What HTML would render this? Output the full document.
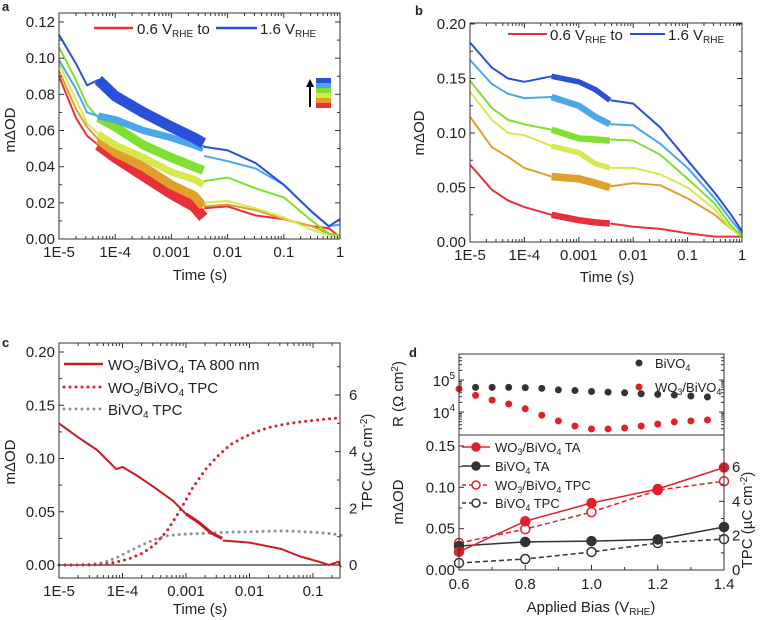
<!DOCTYPE html>
<html><head><meta charset="utf-8">
<style>
body{margin:0;background:#fff;}
svg{display:block;font-family:"Liberation Sans",sans-serif;}
text{fill:#222;}
</style></head>
<body>
<svg id="fig" width="760" height="620" viewBox="0 0 760 620" xmlns="http://www.w3.org/2000/svg">
<text x="2" y="11" font-size="13" font-weight="bold">a</text>
<text x="415" y="15" font-size="13" font-weight="bold">b</text>
<text x="2" y="347" font-size="13" font-weight="bold">c</text>
<text x="409" y="357" font-size="13" font-weight="bold">d</text>
<g id="layer"></g>
</svg>
<script>
// ---------- Panel a data ----------
const aSeriesNames = ['0.6','0.8','1.0','1.2','1.4','1.6'];
const aColors = ['#e8303a','#e0a030','#d8e850','#80e030','#4aa8ea','#2b4fd8'];
const aLogT1 = [-5,-4.7,-4.5,-4.3,-4,-3.5,-3,-2.6,-2.43];
const aLogT2 = [-2.42,-2,-1.5,-1,-0.5,-0.2,0];
const aRed1    = [0.090,0.067,0.057,0.052,0.045,0.035,0.025,0.018,0.012];
const aRed2    = [0.017,0.018,0.013,0.011,0.007,0.006,0.001];
const aOrange1 = [0.093,0.072,0.062,0.055,0.048,0.040,0.030,0.024,0.018];
const aOrange2 = [0.018,0.019,0.016,0.011,0.007,0.003,0.002];
const aYellow1 = [0.097,0.077,0.064,0.058,0.052,0.045,0.037,0.033,0.030];
const aYellow2 = [0.020,0.021,0.017,0.012,0.005,0.002,0.001];
const aGreen1  = [0.106,0.088,0.074,0.067,0.062,0.052,0.045,0.040,0.038];
const aGreen2  = [0.032,0.034,0.028,0.023,0.010,0.003,0.002];
const aLBlue1  = [0.099,0.083,0.070,0.068,0.066,0.060,0.056,0.052,0.050];
const aLBlue2  = [0.046,0.043,0.039,0.030,0.015,0.007,0.008];
const aBlue1   = [0.113,0.097,0.085,0.088,0.079,0.070,0.062,0.056,0.053];
const aBlue2   = [0.051,0.049,0.042,0.030,0.015,0.007,0.011];
const aNoise   = [0.006,0.005,0.004,0.005,0.004,0.006];
const aYTicks  = ['0.00','0.02','0.04','0.06','0.08','0.10','0.12'];
const xTickLabels = ['1E-5','1E-4','0.001','0.01','0.1','1'];

// ---------- Panel b data ----------
const bLogT1 = [-5,-4.6,-4.3,-4,-3.5,-3,-2.7,-2.43];
const bLogT2 = [-2.42,-2,-1.5,-1,-0.5,-0.2,0];
const bRed1    = [0.071,0.048,0.038,0.032,0.025,0.020,0.018,0.017];
const bRed2    = [0.017,0.014,0.012,0.008,0.005,0.005,0.005];
const bOrange1 = [0.115,0.087,0.078,0.068,0.060,0.058,0.054,0.050];
const bOrange2 = [0.051,0.054,0.052,0.040,0.025,0.012,0.008];
const bYellow1 = [0.138,0.112,0.100,0.098,0.088,0.082,0.072,0.068];
const bYellow2 = [0.068,0.068,0.062,0.050,0.030,0.012,0.005];
const bGreen1  = [0.148,0.123,0.112,0.108,0.103,0.095,0.094,0.093];
const bGreen2  = [0.094,0.093,0.080,0.058,0.035,0.015,0.005];
const bLBlue1  = [0.167,0.145,0.136,0.132,0.133,0.125,0.115,0.108];
const bLBlue2  = [0.108,0.107,0.090,0.068,0.040,0.020,0.008];
const bBlue1   = [0.183,0.160,0.150,0.147,0.152,0.147,0.140,0.130];
const bBlue2   = [0.130,0.127,0.105,0.075,0.045,0.025,0.010];
const bNoise   = [0.006,0.007,0.005,0.006,0.006,0.005];
const bYTicks  = ['0.00','0.05','0.10','0.15','0.20'];

// ---------- Panel c data ----------
const cTaLogT1 = [-5,-4.7,-4.4,-4.1,-4,-3.8,-3.5,-3.2,-3,-2.8,-2.6,-2.43];
const cTaVals1 = [0.133,0.120,0.108,0.090,0.092,0.085,0.073,0.060,0.048,0.040,0.030,0.025];
const cTaLogT2 = [-2.42,-2,-1.5,-1.2,-0.9,-0.75,-0.6,-0.56];
const cTaVals2 = [0.023,0.021,0.015,0.008,0.003,0.000,0.003,-0.002];
const cTpcLogT = [-5,-4.7,-4.5,-4.3,-4.1,-3.9,-3.7,-3.5,-3.3,-3.1,-2.9,-2.7,-2.5,-2.3,-2.1,-1.9,-1.7,-1.5,-1.3,-1.1,-0.9,-0.7,-0.56];
const cWoTpc   = [0,0,0,0.02,0.1,0.22,0.4,0.7,1.2,1.9,2.7,3.35,3.85,4.25,4.5,4.7,4.85,4.95,5.02,5.08,5.12,5.17,5.2];
const cBiTpc   = [0,0,0.02,0.08,0.25,0.48,0.7,0.9,1.03,1.08,1.1,1.12,1.14,1.16,1.17,1.18,1.19,1.2,1.19,1.17,1.14,1.1,1.05];
const cYTicks  = ['0.00','0.05','0.10','0.15','0.20'];
const cRTicks  = ['0','2','4','6'];

// ---------- Panel d data ----------
const dRBias   = [0.6,0.65,0.7,0.75,0.8,0.85,0.9,0.95,1.0,1.05,1.1,1.15,1.2,1.25,1.3,1.35];
const dRBiLog  = [null,4.77,4.77,4.77,4.76,4.74,4.69,4.67,4.64,4.62,4.60,4.57,4.55,4.53,4.50,4.47];
const dRWoLog  = [4.72,4.52,4.37,4.25,4.10,3.90,3.72,3.56,3.47,3.47,3.50,3.56,3.62,3.69,3.72,3.75];
const dBias    = [0.6,0.8,1.0,1.2,1.4];
const dWoTA    = [0.022,0.059,0.081,0.098,0.124];
const dBiTA    = [0.029,0.034,0.035,0.037,0.052];
const dWoTPC   = [1.57,2.38,3.37,4.65,5.17];
const dBiTPC   = [0.41,0.64,1.05,1.57,1.80];
const dXTicks  = ['0.6','0.8','1.0','1.2','1.4'];
const dYTicks  = ['0.00','0.05','0.10','0.15'];
const dRTicks  = ['0','2','4','6'];

const NS='http://www.w3.org/2000/svg';
const layer=document.getElementById('layer');
function mk(tag,attrs,parent){const e=document.createElementNS(NS,tag);for(const k in attrs)e.setAttribute(k,attrs[k]);(parent||layer).appendChild(e);return e;}
function lin(d0,d1,r0,r1){return v=>r0+(v-d0)/(d1-d0)*(r1-r0);}
function pathD(xs,ys,fx,fy){let s='';xs.forEach((x,i)=>{if(ys[i]===null)return;s+=(s?'L':'M')+fx(x).toFixed(1)+','+fy(ys[i]).toFixed(1);});return s;}
function txt(x,y,str,size,anchor,parent){const t=mk('text',{x:x,y:y,'font-size':size,'text-anchor':anchor||'middle'},parent);t.textContent=str;return t;}
function box(x0,y0,x1,y1){const r=mk('rect',{x:x0,y:y0,width:x1-x0,height:y1-y0,fill:'none',stroke:'#333','stroke-width':1});}
function tick(x1,y1,x2,y2){const l=mk('line',{x1:x1,y1:y1,x2:x2,y2:y2,stroke:'#333','stroke-width':1});}
function logXAxis(fx,y0,y1,dmin,dmax,labels,lastLog){
  for(let d=dmin;d<=dmax;d++){
    const x=fx(d);
    if(x<=fx(lastLog)+0.5){tick(x,y1,x,y1-5);tick(x,y0,x,y0+5);
      const t=txt(x,y1+18,labels[d-dmin],15);}
    for(let m=2;m<10;m++){const lx=d+Math.log10(m);if(lx<lastLog&&d<dmax){const xx=fx(lx);tick(xx,y1,xx,y1-3);tick(xx,y0,xx,y0+3);}}
  }
}
function yAxisLin(fy,x0,x1,labels,step,leftLabels,withRight){
  labels.forEach((lab,i)=>{const y=fy(i*step);tick(x0,y,x0+5,y);if(withRight)tick(x1,y,x1-5,y);
    if(leftLabels){const t=txt(x0-4,y+5,lab,15,'end');}
    const ym=fy((i+0.5)*step);if(i<labels.length-1){tick(x0,ym,x0+3,ym);if(withRight)tick(x1,ym,x1-3,ym);}});
}
function noisyLine(xs,ys,noise,fx,fy,color,name,from){
  const p=mk('path',{d:pathD(xs,ys,fx,fy),fill:'none',stroke:color,'stroke-width':2,'stroke-linejoin':'round'});
  
  const xs2=[],ys2=[];xs.forEach((x,i)=>{if(x>=from){xs2.push(x);ys2.push(ys[i]);}});
  const w=Math.abs(fy(0)-fy(noise));
  const q=mk('path',{d:pathD(xs2,ys2,fx,fy),fill:'none',stroke:color,'stroke-width':w.toFixed(1),'stroke-linejoin':'round','stroke-linecap':'butt'});
  
}
function ylabel(x,y,str,rot){const t=mk('text',{x:x,y:y,'font-size':15,'text-anchor':'middle',transform:'rotate('+rot+' '+x+' '+y+')'});t.innerHTML=str;return t;}

// ================= Panel a =================
(function(){
  const fx=lin(-5,0,59,340), fy=lin(0,0.12,239,22);
  const s1=[aRed1,aOrange1,aYellow1,aGreen1,aLBlue1,aBlue1], s2=[aRed2,aOrange2,aYellow2,aGreen2,aLBlue2,aBlue2];
  s1.forEach((v,i)=>{noisyLine(aLogT1,v,aNoise[i],fx,fy,aColors[i],'a-series-'+aSeriesNames[i]+'V',-4.3);
    const p=mk('path',{d:pathD(aLogT2,s2[i],fx,fy),fill:'none',stroke:aColors[i],'stroke-width':2});
    });
  box(59,13,340,239);
  logXAxis(fx,13,239,-5,0,xTickLabels,0);
  yAxisLin(fy,59,340,aYTicks,0.02,true,true);
  const yt=ylabel(15,130,'mΔOD',-90);
  const xt=txt(200,280,'Time (s)',15);
  const g=mk('g',{});
  mk('line',{x1:94,y1:28,x2:133,y2:28,stroke:'#e8303a','stroke-width':2.5},g);
  const t1=mk('text',{x:137,y:34,'font-size':15},g);t1.innerHTML='0.6 V<tspan font-size="10" dy="3">RHE</tspan><tspan dy="-3">  to</tspan>';
  mk('line',{x1:216,y1:28,x2:257,y2:28,stroke:'#2b4fd8','stroke-width':2.5},g);
  const t2=mk('text',{x:260,y:34,'font-size':15},g);t2.innerHTML='1.6 V<tspan font-size="10" dy="3">RHE</tspan>';
  const k=mk('g',{});
  aColors.slice().reverse().forEach((c,i)=>mk('rect',{x:316,y:78+i*5,width:15,height:5,fill:c},k));
  mk('line',{x1:310,y1:107,x2:310,y2:86,stroke:'#000','stroke-width':2},k);
  mk('path',{d:'M306,87 L310,79 L314,87Z',fill:'#000'},k);
})();

// ================= Panel b =================
(function(){
  const fx=lin(-5,0,470,742), fy=lin(0,0.2,242,24);
  const s1=[bRed1,bOrange1,bYellow1,bGreen1,bLBlue1,bBlue1], s2=[bRed2,bOrange2,bYellow2,bGreen2,bLBlue2,bBlue2];
  s1.forEach((v,i)=>{noisyLine(bLogT1,v,bNoise[i],fx,fy,aColors[i],'b-series-'+aSeriesNames[i]+'V',-3.5);
    const p=mk('path',{d:pathD(bLogT2,s2[i],fx,fy),fill:'none',stroke:aColors[i],'stroke-width':2});
    });
  box(470,23,742,242);
  logXAxis(fx,23,242,-5,0,xTickLabels,0);
  yAxisLin(fy,470,742,bYTicks,0.05,true,true);
  const yt=ylabel(424,133,'mΔOD',-90);
  const xt=txt(607,282,'Time (s)',15);
  const g=mk('g',{});
  mk('line',{x1:508,y1:34,x2:547,y2:34,stroke:'#e8303a','stroke-width':2},g);
  const t1=mk('text',{x:550,y:40,'font-size':15},g);t1.innerHTML='0.6 V<tspan font-size="10" dy="3">RHE</tspan><tspan dy="-3">  to</tspan>';
  mk('line',{x1:630,y1:34,x2:665,y2:34,stroke:'#2b4fd8','stroke-width':2},g);
  const t2=mk('text',{x:668,y:40,'font-size':15},g);t2.innerHTML='1.6 V<tspan font-size="10" dy="3">RHE</tspan>';
})();

// ================= Panel c =================
(function(){
  const fx=lin(-5,-1,59,313), fy=lin(0,0.2,565,352), fr=lin(0,6,565,395);
  const last=-0.575;
  const z=mk('line',{x1:59,y1:fy(0),x2:340,y2:fy(0),stroke:'#333','stroke-width':1.2});
  const bi=mk('path',{d:pathD(cTpcLogT,cBiTpc,fx,fr),fill:'none',stroke:'#8a9494','stroke-width':3,'stroke-dasharray':'0 6','stroke-linecap':'round'});
  
  const wo=mk('path',{d:pathD(cTpcLogT,cWoTpc,fx,fr),fill:'none',stroke:'#d8202a','stroke-width':3,'stroke-dasharray':'0 6','stroke-linecap':'round'});
  
  noisyLine(cTaLogT1,cTaVals1,0.003,fx,fy,'#cc1a22','c-wo3-bivo4-ta',-3.1);
  const ta2=mk('path',{d:pathD(cTaLogT2,cTaVals2,fx,fy),fill:'none',stroke:'#cc1a22','stroke-width':2});
  
  box(59,343,340,578);
  logXAxis(fx,343,578,-5,-1,xTickLabels,last);
  {const xx=fx(-1+Math.log10(2));tick(xx,578,xx,575);tick(xx,343,xx,346);}
  yAxisLin(fy,59,340,cYTicks,0.05,true,false);
  cRTicks.forEach((lab,i)=>{const y=fr(i*2);tick(340,y,335,y);const ym=fr(i*2+1);if(ym>343)tick(340,ym,337,ym);
    const t=txt(349,y+5,lab,15,'start');});
  const yt=ylabel(15,462,'mΔOD',-90);
  const rt=ylabel(372,462,'TPC (µC cm<tspan font-size="10" dy="-5">-2</tspan><tspan dy="5">)</tspan>',-90);
  const xt=txt(200,614,'Time (s)',15);
  const g=mk('g',{});
  mk('line',{x1:64,y1:364,x2:103,y2:364,stroke:'#cc1a22','stroke-width':2.5},g);
  mk('line',{x1:64,y1:387,x2:103,y2:387,stroke:'#d8202a','stroke-width':3,'stroke-dasharray':'0 6','stroke-linecap':'round'},g);
  mk('line',{x1:64,y1:409,x2:103,y2:409,stroke:'#8a9494','stroke-width':3,'stroke-dasharray':'0 6','stroke-linecap':'round'},g);
  const s='<tspan font-size="10" dy="3">';
  mk('text',{x:108,y:370,'font-size':15},g).innerHTML='WO'+s+'3</tspan><tspan dy="-3">/BiVO</tspan>'+s+'4</tspan><tspan dy="-3"> TA 800 nm</tspan>';
  mk('text',{x:108,y:393,'font-size':15},g).innerHTML='WO'+s+'3</tspan><tspan dy="-3">/BiVO</tspan>'+s+'4</tspan><tspan dy="-3"> TPC</tspan>';
  mk('text',{x:108,y:415,'font-size':15},g).innerHTML='BiVO'+s+'4</tspan><tspan dy="-3"> TPC</tspan>';
})();

// ================= Panel d =================
(function(){
  const fx=lin(0.6,1.4,459,724);
  const fl=lin(4,5,412,380);
  dRBias.forEach((b,i)=>{
    if(dRBiLog[i]!==null){const c=mk('circle',{cx:fx(b),cy:fl(dRBiLog[i]),r:3.5,fill:'#333'});}
    const c2=mk('circle',{cx:fx(b),cy:fl(dRWoLog[i]),r:3.5,fill:'#e0202a'});
  });
  box(459,354,724,435);
  [4,5].forEach(d=>{const y=fl(d);tick(459,y,464,y);tick(724,y,719,y);
    const t=mk('text',{x:455,y:y+6,'font-size':15,'text-anchor':'end'});t.innerHTML='10<tspan font-size="10" dy="-7">'+d+'</tspan>';
    });
  for(const dd of [3,4,5]){for(let m=2;m<10;m++){const yy=fl(dd+Math.log10(m));if(yy>356&&yy<434){tick(459,yy,462,yy);tick(724,yy,721,yy);}}}
  const rt=ylabel(403,394,'R (Ω cm<tspan font-size="10" dy="-5">2</tspan><tspan dy="5">)</tspan>',-90);
  const lg=mk('g',{});
  mk('circle',{cx:639,cy:363,r:3.5,fill:'#333'},lg);
  mk('circle',{cx:639,cy:387,r:3.5,fill:'#e0202a'},lg);
  mk('text',{x:655,y:368,'font-size':13},lg).innerHTML='BiVO<tspan font-size="9" dy="3">4</tspan>';
  mk('text',{x:655,y:392,'font-size':13},lg).innerHTML='WO<tspan font-size="9" dy="3">3</tspan><tspan dy="-3">/BiVO</tspan><tspan font-size="9" dy="3">4</tspan>';
  const fy=lin(0,0.15,570,446), fr=lin(0,6,570,467);
  function series(ys,f,color,dash,filled,name){
    const p=mk('path',{d:pathD(dBias,ys,fx,f),fill:'none',stroke:color,'stroke-width':1.5,'stroke-dasharray':dash});
    
    dBias.forEach((b,i)=>{const c=mk('circle',{cx:fx(b),cy:f(ys[i]),r:4.5,fill:filled?color:'#fff',stroke:color,'stroke-width':1.5});
      });
  }
  series(dBiTPC,fr,'#333','5 3',false,'d-bivo4-tpc');
  series(dWoTPC,fr,'#e0202a','5 3',false,'d-wo3-bivo4-tpc');
  series(dBiTA,fy,'#333','',true,'d-bivo4-ta');
  series(dWoTA,fy,'#e0202a','',true,'d-wo3-bivo4-ta');
  box(459,435,724,570);
  dXTicks.forEach((lab,i)=>{const x=fx(0.6+i*0.2);tick(x,570,x,565);
    if(i<dXTicks.length-1){const xm=fx(0.7+i*0.2);tick(xm,570,xm,567);}
    const t=txt(x,589,lab,15);});
  yAxisLin(fy,459,724,dYTicks,0.05,true,false);
  dRTicks.forEach((lab,i)=>{const y=fr(i*2);tick(724,y,719,y);const ym=fr(i*2+1);tick(724,ym,721,ym);
    const t=txt(732,y+5,lab,15,'start');});
  const yt=ylabel(403,502,'mΔOD',-90);
  const r2=ylabel(752,520,'TPC (µC cm<tspan font-size="10" dy="-5">-2</tspan><tspan dy="5">)</tspan>',-90);
  const xt=mk('text',{x:591,y:612,'font-size':15,'text-anchor':'middle'});xt.innerHTML='Applied Bias (V<tspan font-size="10" dy="3">RHE</tspan><tspan dy="-3">)</tspan>';
  
  const g=mk('g',{});
  const items=[['#e0202a','',true,'WO3/BiVO4 TA'],['#333','',true,'BiVO4 TA'],['#e0202a','4 3',false,'WO3/BiVO4 TPC'],['#333','4 3',false,'BiVO4 TPC']];
  const rows=[447,466,485,503];
  items.forEach((it,i)=>{const y=rows[i];
    mk('line',{x1:462,y1:y,x2:490,y2:y,stroke:it[0],'stroke-width':1.5,'stroke-dasharray':it[1]},g);
    mk('circle',{cx:476,cy:y,r:4,fill:it[2]?it[0]:'#fff',stroke:it[0],'stroke-width':1.5},g);
    const t=mk('text',{x:495,y:y+5,'font-size':13},g);
    t.innerHTML=it[3].replace('WO3','WO<tspan font-size="9" dy="3">3</tspan><tspan dy="-3">').replace('BiVO4','BiVO</tspan><tspan font-size="9" dy="3">4</tspan><tspan dy="-3">')+'</tspan>';
  });
})();
</script>
</body></html>
